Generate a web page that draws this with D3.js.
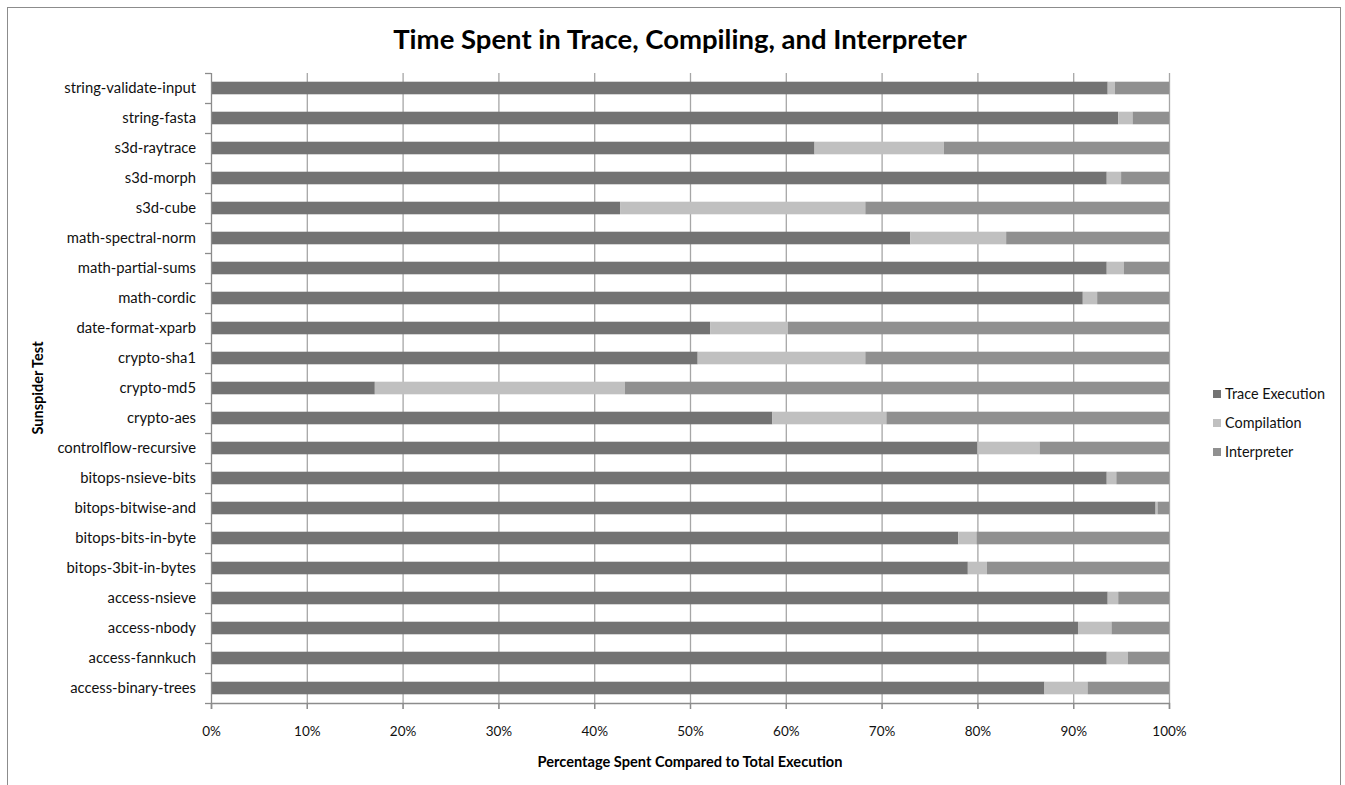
<!DOCTYPE html>
<html>
<head>
<meta charset="utf-8">
<script src="https://cdn.jsdelivr.net/npm/d3@7"></script>
<style>
  body { margin: 0; background: #fff; }
  svg { font-family: Lato, "Open Sans", sans-serif; }
  .tick text { fill: #111; }
</style>
</head>
<body>
<svg width="1345" height="785"></svg>
<script>
// tests, top to bottom as shown
const tests = [
    "string-validate-input", "string-fasta", "s3d-raytrace", "s3d-morph", "s3d-cube",
    "math-spectral-norm", "math-partial-sums", "math-cordic", "date-format-xparb",
    "crypto-sha1", "crypto-md5", "crypto-aes", "controlflow-recursive",
    "bitops-nsieve-bits", "bitops-bitwise-and", "bitops-bits-in-byte",
    "bitops-3bit-in-bytes", "access-nsieve", "access-nbody", "access-fannkuch",
    "access-binary-trees"
];

// percent of total execution
const traceExecution = [93.6, 94.7, 63.0, 93.5, 42.7, 73.0, 93.5, 91.0, 52.1, 50.8, 17.1,
    58.6, 80.0, 93.5, 98.6, 78.0, 79.0, 93.6, 90.5, 93.5, 87.0];
const compilation = [0.75, 1.5, 13.5, 1.5, 25.6, 10.0, 1.8, 1.5, 8.1, 17.5, 26.1,
    11.9, 6.5, 1.0, 0.2, 1.9, 2.0, 1.1, 3.5, 2.2, 4.5];
const interpreter = [5.65, 3.8, 23.5, 5.0, 31.7, 17.0, 4.7, 7.5, 39.8, 31.7, 56.8,
    29.5, 13.5, 5.5, 1.2, 20.1, 19.0, 5.3, 6.0, 4.3, 8.5];

const seriesNames = ["Trace Execution", "Compilation", "Interpreter"];
const seriesColors = ["#737373", "#c0c0c0", "#909090"];
const xTicks = [0, 10, 20, 30, 40, 50, 60, 70, 80, 90, 100];

const width = 1345, height = 785;
const margin = { top: 73, right: 176, bottom: 82, left: 211 };

const svg = d3.select("svg");

// outer frame
svg.append("rect")
    .attr("x", 7.5).attr("y", 7.5)
    .attr("width", 1333).attr("height", 800)
    .attr("fill", "none")
    .attr("stroke", "#8c8c8c");

const rows = tests.map((t, i) => ({
    test: t,
    "Trace Execution": traceExecution[i],
    "Compilation": compilation[i],
    "Interpreter": interpreter[i]
}));

const x = d3.scaleLinear()
    .domain([0, 100])
    .range([margin.left, width - margin.right]);

const y = d3.scaleBand()
    .domain(tests)
    .range([margin.top, height - margin.bottom])
    .paddingInner(0.58)
    .paddingOuter(0.29);

const plotBottom = height - margin.bottom;

// gridlines
svg.append("g")
    .selectAll("line")
    .data(xTicks.slice(1))
    .enter().append("line")
    .attr("x1", d => x(d) + 0.5).attr("x2", d => x(d) + 0.5)
    .attr("y1", margin.top).attr("y2", plotBottom + 6)
    .attr("stroke", "#a6a6a6")
    .attr("stroke-width", 1.3);

const stacked = d3.stack().keys(seriesNames)(rows);

svg.append("g")
    .selectAll("g")
    .data(stacked)
    .enter().append("g")
    .attr("fill", (d, i) => seriesColors[i])
    .selectAll("rect")
    .data(d => d)
    .enter().append("rect")
    .attr("x", d => x(d[0]))
    .attr("y", d => y(d.data.test))
    .attr("width", d => Math.max(0, x(d[1]) - x(d[0])))
    .attr("height", y.bandwidth());

// y axis: line at left with ticks between bands
const yAxis = svg.append("g");
yAxis.append("line")
    .attr("x1", margin.left + 0.5).attr("x2", margin.left + 0.5)
    .attr("y1", margin.top).attr("y2", plotBottom + 6)
    .attr("stroke", "#8c8c8c").attr("stroke-width", 1.3);
yAxis.selectAll("line.tk")
    .data(d3.range(tests.length + 1))
    .enter().append("line")
    .attr("class", "tk")
    .attr("x1", margin.left - 6).attr("x2", margin.left)
    .attr("y1", i => margin.top + i * y.step() + 0.5)
    .attr("y2", i => margin.top + i * y.step() + 0.5)
    .attr("stroke", "#8c8c8c").attr("stroke-width", 1.3);
yAxis.selectAll("text")
    .data(tests)
    .enter().append("text")
    .attr("x", margin.left - 15)
    .attr("y", d => y(d) + y.bandwidth() / 2)
    .attr("dy", "0.35em")
    .attr("text-anchor", "end")
    .attr("font-size", 14.8)
    .attr("fill", "#111")
    .text(d => d);

// x axis
const xAxis = svg.append("g")
    .attr("transform", `translate(0,${plotBottom})`)
    .call(d3.axisBottom(x).tickValues(xTicks).tickSize(6).tickFormat(d => d + "%"));
xAxis.select(".domain").attr("stroke", "#8c8c8c").attr("stroke-width", 1.3);
xAxis.selectAll(".tick line").attr("stroke", "#8c8c8c").attr("stroke-width", 1.3);
xAxis.selectAll(".tick text")
    .attr("font-size", 13.5)
    .attr("font-family", "Lato, sans-serif")
    .attr("dy", "1.75em");

// titles
svg.append("text")
    .attr("x", 680).attr("y", 49)
    .attr("text-anchor", "middle")
    .attr("font-size", 27.5)
    .attr("font-weight", "bold")
    .attr("fill", "#000")
    .text("Time Spent in Trace, Compiling, and Interpreter");

svg.append("text")
    .attr("x", (x(0) + x(100)) / 2).attr("y", 767)
    .attr("text-anchor", "middle")
    .attr("font-size", 14.6)
    .attr("font-weight", "bold")
    .attr("fill", "#000")
    .text("Percentage Spent Compared to Total Execution");

svg.append("text")
    .attr("transform", `translate(43,${(margin.top + plotBottom) / 2}) rotate(-90)`)
    .attr("text-anchor", "middle")
    .attr("font-size", 14.5)
    .attr("font-weight", "bold")
    .attr("fill", "#000")
    .text("Sunspider Test");

// legend
const legend = svg.append("g")
    .attr("transform", "translate(1213,390)")
    .selectAll("g")
    .data(seriesNames)
    .enter().append("g")
    .attr("transform", (d, i) => `translate(0,${i * 29})`);
legend.append("rect")
    .attr("width", 8).attr("height", 8)
    .attr("fill", (d, i) => seriesColors[i]);
legend.append("text")
    .attr("x", 12).attr("y", 4)
    .attr("dy", "0.35em")
    .attr("font-size", 14.4)
    .attr("fill", "#111")
    .text(d => d);
</script>
</body>
</html>
